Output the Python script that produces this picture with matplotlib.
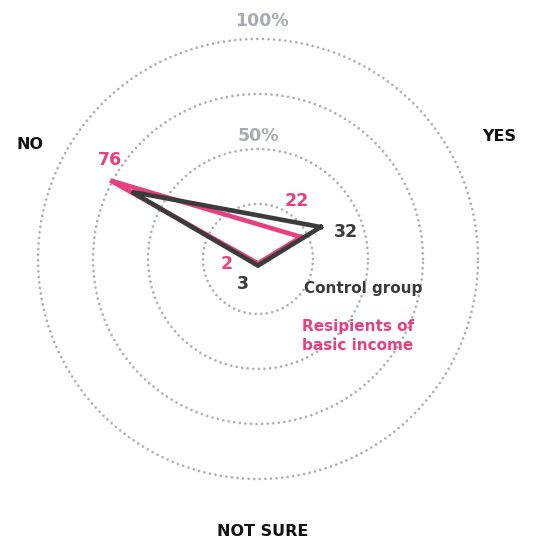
import numpy as np
import matplotlib
matplotlib.use("Agg")
from matplotlib import pyplot as plt

categories = ["YES", "NO", "NOT SURE"]
angles_deg = [27, 152, 270]
control = [32, 65, 3]
basic_income = [22, 76, 2]
ring_values = [25, 50, 75, 100]

dark = "#3b3b3b"
pink = "#e8407f"
gray = "#a9abb3"

plt.rcParams["font.family"] = ["DejaVu Sans"]

fig = plt.figure(figsize=(5.33, 5.43), dpi=100)
ax = fig.add_axes([0.063, 0.1098, 0.842, 0.8265], polar=True)

theta = np.deg2rad(angles_deg)
theta_closed = np.append(theta, theta[0])

ax.plot(theta_closed, basic_income + basic_income[:1], color=pink, lw=3.3,
        solid_joinstyle="miter", zorder=3)
ax.plot(theta_closed, control + control[:1], color=dark, lw=3.3,
        solid_joinstyle="miter", zorder=4)

ax.set_ylim(0, 102)
ax.set_yticks(ring_values)
ax.set_yticklabels([])
ax.set_xticks([])
ax.spines["polar"].set_visible(False)
ax.yaxis.grid(True, color="#b0b0b0", lw=2.0, linestyle=(0, (0.01, 2.0)))
for line in ax.yaxis.get_gridlines():
    line.set_dash_capstyle("round")
ax.xaxis.grid(False)

# ring labels
ax.text(np.pi / 2, 56, "50%", color=gray, fontsize=12.5, fontweight="bold",
        ha="center", va="center")
ax.text(np.deg2rad(89), 108, "100%", color=gray, fontsize=12.5, fontweight="bold",
        ha="center", va="center", clip_on=False)

# category labels
label_pos = {"YES": (27, 123), "NO": (153.4, 116), "NOT SURE": (271, 124)}
for cat in categories:
    a, r = label_pos[cat]
    ax.text(np.deg2rad(a), r, cat, color="#111111", fontsize=11.5, fontweight="bold",
            ha="center", va="center", clip_on=False)

# value labels
pink_offsets = [(-4, 36), (0, 20), (-31, -1)]
dark_offsets = [(25, -5), None, (-15, -18)]
for t, v, off in zip(theta, basic_income, pink_offsets):
    ax.annotate(str(v), (t, v), xytext=off, textcoords="offset pixels",
                color=pink, fontsize=12.5, fontweight="bold", ha="center", va="center")
for t, v, off in zip(theta, control, dark_offsets):
    if off is None:
        continue
    ax.annotate(str(v), (t, v), xytext=off, textcoords="offset pixels",
                color=dark, fontsize=12.5, fontweight="bold", ha="center", va="center")

# legend texts
fig.text(363 / 533, 1 - 289 / 543, "Control group", color=dark, fontsize=11,
         fontweight="bold", ha="center", va="center")
fig.text(358 / 533, 1 - 336 / 543, "Resipients of\nbasic income", color=pink,
         fontsize=11, fontweight="bold", ha="center", va="center", linespacing=1.3)

fig.savefig("out.png", dpi=100)
